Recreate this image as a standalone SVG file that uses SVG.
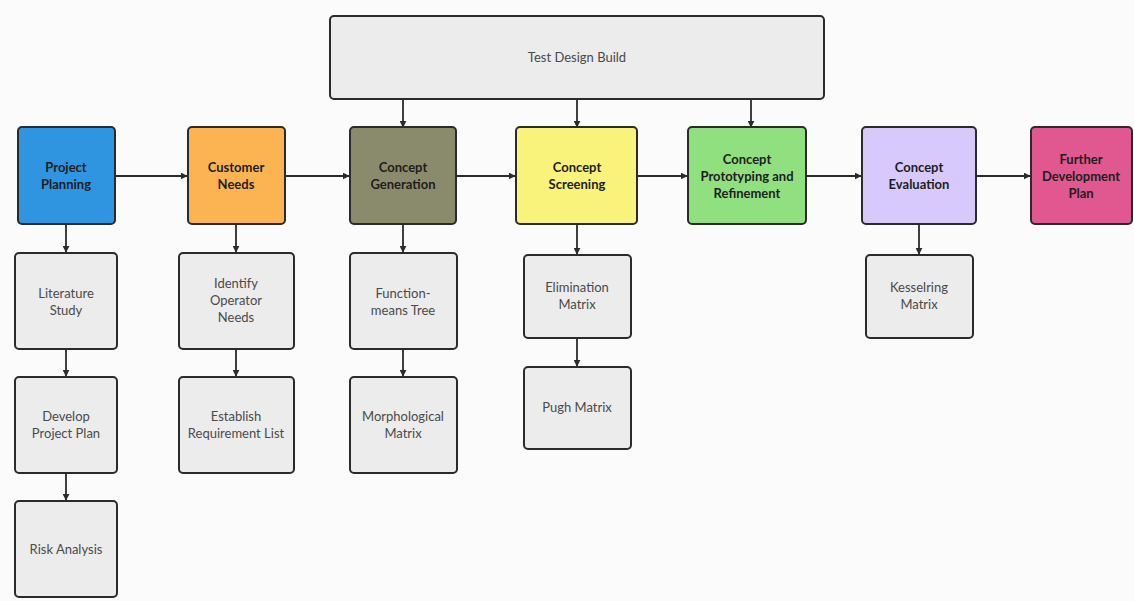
<svg xmlns="http://www.w3.org/2000/svg" width="1134" height="601" viewBox="0 0 1134 601">
<defs>
<marker id="ah" viewBox="0 0 10 10" refX="9" refY="5" markerWidth="7" markerHeight="7" markerUnits="userSpaceOnUse" orient="auto">
<path d="M0,0 L10,5 L0,10 z" fill="#2b2b2b"/>
</marker>
<style>
.box{stroke:#2b2b2b;stroke-width:2}
.sub{fill:#ececec}
.t{font-family:Lato,"Liberation Sans",sans-serif;font-size:13px;text-anchor:middle;fill:#1e1e1e;font-weight:bold}
.g{font-family:Lato,"Liberation Sans",sans-serif;font-size:13px;text-anchor:middle;fill:#4a4a4a}
.c{stroke:#2b2b2b;stroke-width:1.8;fill:none;marker-end:url(#ah)}
</style>
</defs>
<rect width="1134" height="601" fill="#fbfbfb"/>
<g id="connectors">
<line class="c" x1="115" y1="176" x2="187" y2="176"/>
<line class="c" x1="285" y1="176" x2="349" y2="176"/>
<line class="c" x1="456" y1="176" x2="515" y2="176"/>
<line class="c" x1="637" y1="176" x2="687" y2="176"/>
<line class="c" x1="806" y1="176" x2="861" y2="176"/>
<line class="c" x1="976" y1="176" x2="1030" y2="176"/>
<line class="c" x1="403" y1="99" x2="403" y2="127"/>
<line class="c" x1="577" y1="99" x2="577" y2="127"/>
<line class="c" x1="751" y1="99" x2="751" y2="127"/>
<line class="c" x1="66" y1="224" x2="66" y2="252"/>
<line class="c" x1="66" y1="349" x2="66" y2="376"/>
<line class="c" x1="66" y1="473" x2="66" y2="500"/>
<line class="c" x1="236" y1="224" x2="236" y2="252"/>
<line class="c" x1="236" y1="349" x2="236" y2="376"/>
<line class="c" x1="403" y1="224" x2="403" y2="252"/>
<line class="c" x1="403" y1="349" x2="403" y2="376"/>
<line class="c" x1="577" y1="224" x2="577" y2="254"/>
<line class="c" x1="577" y1="338" x2="577" y2="366"/>
<line class="c" x1="919" y1="224" x2="919" y2="254"/>
</g>
<g id="test-design-build">
<rect class="box" x="330" y="16" width="494" height="83" rx="4" fill="#ececec"/>
<text class="g" x="577" y="62">Test Design Build</text>
</g>
<g id="project-planning">
<rect class="box" x="18" y="127" width="97" height="97" rx="4" fill="#2f95e0"/>
<text class="t" x="66" y="172">Project</text>
<text class="t" x="66" y="189">Planning</text>
</g>
<g id="customer-needs">
<rect class="box" x="188" y="127" width="97" height="97" rx="4" fill="#fcb452"/>
<text class="t" x="236" y="172">Customer</text>
<text class="t" x="236" y="189">Needs</text>
</g>
<g id="concept-generation">
<rect class="box" x="350" y="127" width="106" height="97" rx="4" fill="#8a8b6c"/>
<text class="t" x="403" y="172">Concept</text>
<text class="t" x="403" y="189">Generation</text>
</g>
<g id="concept-screening">
<rect class="box" x="516" y="127" width="121" height="97" rx="4" fill="#f9f37c"/>
<text class="t" x="577" y="172">Concept</text>
<text class="t" x="577" y="189">Screening</text>
</g>
<g id="concept-prototyping">
<rect class="box" x="688" y="127" width="118" height="97" rx="4" fill="#90e07f"/>
<text class="t" x="747" y="164">Concept</text>
<text class="t" x="747" y="181">Prototyping and</text>
<text class="t" x="747" y="198">Refinement</text>
</g>
<g id="concept-evaluation">
<rect class="box" x="862" y="127" width="114" height="97" rx="4" fill="#d7c9fb"/>
<text class="t" x="919" y="172">Concept</text>
<text class="t" x="919" y="189">Evaluation</text>
</g>
<g id="further-development-plan">
<rect class="box" x="1031" y="127" width="101" height="97" rx="4" fill="#e0588f"/>
<text class="t" x="1081" y="164">Further</text>
<text class="t" x="1081" y="181">Development</text>
<text class="t" x="1081" y="198">Plan</text>
</g>
<g id="literature-study">
<rect class="box sub" x="15" y="253" width="102" height="96" rx="4"/>
<text class="g" x="66" y="298">Literature</text>
<text class="g" x="66" y="315">Study</text>
</g>
<g id="develop-project-plan">
<rect class="box sub" x="15" y="377" width="102" height="96" rx="4"/>
<text class="g" x="66" y="421">Develop</text>
<text class="g" x="66" y="438">Project Plan</text>
</g>
<g id="risk-analysis">
<rect class="box sub" x="15" y="501" width="102" height="96" rx="4"/>
<text class="g" x="66" y="554">Risk Analysis</text>
</g>
<g id="identify-operator-needs">
<rect class="box sub" x="179" y="253" width="115" height="96" rx="4"/>
<text class="g" x="236" y="288">Identify</text>
<text class="g" x="236" y="305">Operator</text>
<text class="g" x="236" y="322">Needs</text>
</g>
<g id="establish-requirement-list">
<rect class="box sub" x="179" y="377" width="115" height="96" rx="4"/>
<text class="g" x="236" y="421">Establish</text>
<text class="g" x="236" y="438">Requirement List</text>
</g>
<g id="function-means-tree">
<rect class="box sub" x="350" y="253" width="107" height="96" rx="4"/>
<text class="g" x="403" y="298">Function-</text>
<text class="g" x="403" y="315">means Tree</text>
</g>
<g id="morphological-matrix">
<rect class="box sub" x="350" y="377" width="107" height="96" rx="4"/>
<text class="g" x="403" y="421">Morphological</text>
<text class="g" x="403" y="438">Matrix</text>
</g>
<g id="elimination-matrix">
<rect class="box sub" x="524" y="255" width="107" height="83" rx="4"/>
<text class="g" x="577" y="292">Elimination</text>
<text class="g" x="577" y="309">Matrix</text>
</g>
<g id="pugh-matrix">
<rect class="box sub" x="524" y="367" width="107" height="82" rx="4"/>
<text class="g" x="577" y="412">Pugh Matrix</text>
</g>
<g id="kesselring-matrix">
<rect class="box sub" x="866" y="255" width="107" height="83" rx="4"/>
<text class="g" x="919" y="292">Kesselring</text>
<text class="g" x="919" y="309">Matrix</text>
</g>
</svg>
